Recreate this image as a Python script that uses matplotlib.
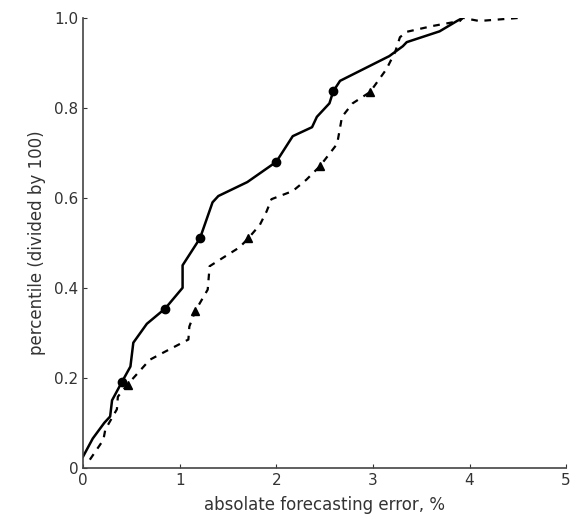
import matplotlib.pyplot as plt

# solid curve
solid_x = [0.0, 0.1, 0.22, 0.28, 0.30, 0.40, 0.49, 0.52, 0.66, 0.85, 1.03, 1.03, 1.21, 1.34,
           1.40, 1.70, 2.0, 2.17, 2.37, 2.42, 2.55, 2.59, 2.66, 3.17, 3.31, 3.35, 3.69, 3.87, 3.93]
solid_y = [0.025, 0.065, 0.10, 0.114, 0.15, 0.19, 0.225, 0.278, 0.32, 0.354, 0.40, 0.45, 0.51, 0.59,
           0.604, 0.635, 0.68, 0.737, 0.757, 0.78, 0.81, 0.837, 0.86, 0.915, 0.937, 0.946, 0.97, 0.993, 1.0]

# dashed curve
dash_x = [0.07, 0.21, 0.23, 0.35, 0.36, 0.46, 0.69, 0.83, 1.09, 1.10, 1.16, 1.29, 1.31, 1.42,
          1.62, 1.71, 1.83, 1.90, 1.95, 2.17, 2.31, 2.45, 2.63, 2.68, 2.79, 2.97, 3.14, 3.23, 3.28,
          3.35, 3.62, 3.90, 3.93, 4.10, 4.52]
dash_y = [0.018, 0.062, 0.085, 0.13, 0.158, 0.185, 0.24, 0.256, 0.285, 0.314, 0.348, 0.396, 0.448,
          0.463, 0.49, 0.51, 0.54, 0.57, 0.597, 0.615, 0.64, 0.67, 0.72, 0.78, 0.81, 0.835, 0.886,
          0.924, 0.957, 0.969, 0.982, 0.993, 1.0, 0.993, 1.0]

circle_x = [0.40, 0.85, 1.21, 2.0, 2.59]
circle_y = [0.19, 0.354, 0.51, 0.68, 0.837]
tri_x = [0.46, 1.16, 1.71, 2.45, 2.97]
tri_y = [0.185, 0.348, 0.51, 0.67, 0.835]

xticks = [0, 1, 2, 3, 4, 5]
yticks = [0, 0.2, 0.4, 0.6, 0.8, 1.0]
ytick_labels = ["0", "0.2", "0.4", "0.6", "0.8", "1.0"]

fig = plt.figure(figsize=(5.73, 5.25), dpi=100)
ax = fig.add_axes([0.145, 0.109, 0.843, 0.857])

ax.plot(solid_x, solid_y, color="black", lw=1.8, solid_joinstyle="round")
ax.plot(dash_x, dash_y, color="black", lw=1.6, ls=(0, (3, 3)))
ax.plot(circle_x, circle_y, "o", color="black", ms=6)
ax.plot(tri_x, tri_y, "^", color="black", ms=5.5)

ax.set_xlim(0, 5)
ax.set_ylim(0, 1.0)
ax.set_xticks(xticks)
ax.set_yticks(yticks)
ax.set_yticklabels(ytick_labels)
ax.tick_params(direction="in", length=3, labelsize=11, colors="#333333")
ax.spines["top"].set_visible(False)
ax.spines["right"].set_visible(False)
for s in ["left", "bottom"]:
    ax.spines[s].set_color("#444444")
    ax.spines[s].set_linewidth(1.2)

ax.set_xlabel("absolate forecasting error, %", fontsize=12, color="#333333", labelpad=6)
ax.set_ylabel("percentile (divided by 100)", fontsize=12, color="#333333", labelpad=6)

fig.savefig("out.png", dpi=100)
